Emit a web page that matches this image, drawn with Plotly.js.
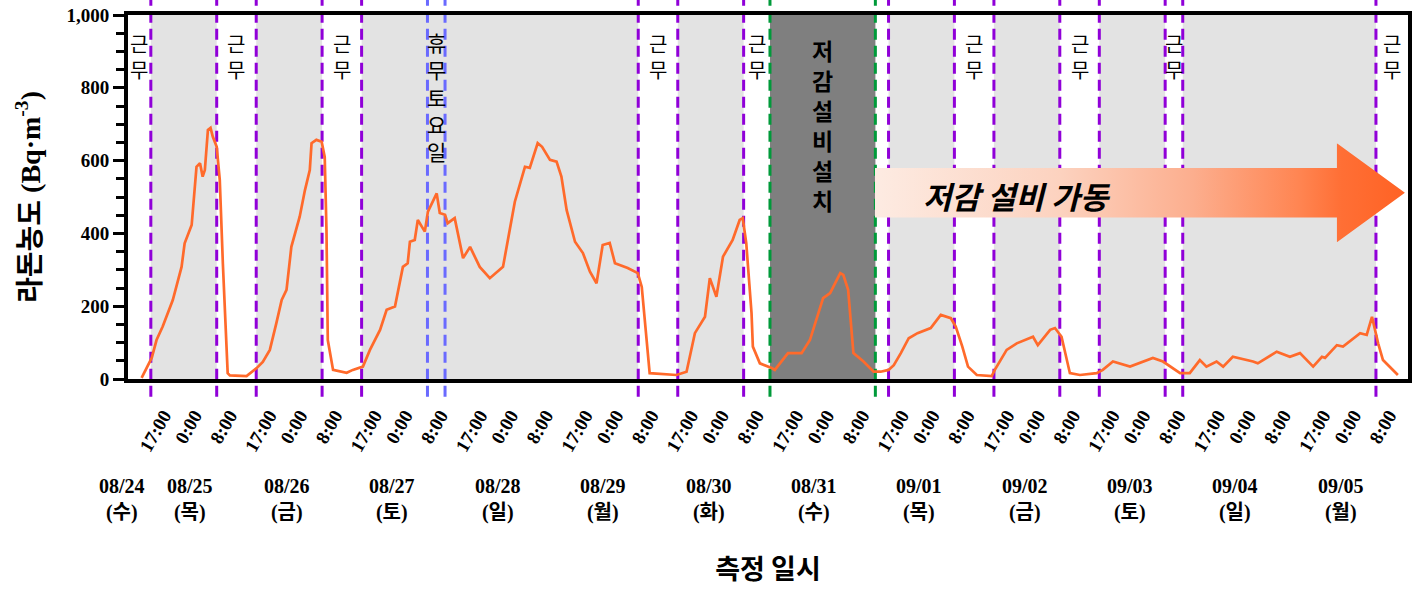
<!DOCTYPE html>
<html>
<head>
<meta charset="utf-8">
<script src="https://cdn.plot.ly/plotly-3.0.1.min.js"></script>
<style>html,body{margin:0;padding:0;background:#fff;}#chart{width:1418px;height:597px;}</style>
</head>
<body>
<div id="chart"></div>
<script>
// ---- data: elapsed hours since 2022-08-24 00:00 and radon concentration (Bq/m3) ----
const hours = [14.9,17.2,18.3,19.7,22.0,24.0,24.7,26.3,27.4,28.2,
  28.8,29.3,30.0,30.6,31.1,32.0,32.7,33.4,34.5,35.0,
  38.8,41.1,42.5,44.1,45.6,46.8,47.9,49.0,50.9,52.1,
  53.2,53.6,54.7,55.9,56.6,57.0,57.3,58.5,61.6,63.0,
  65.3,66.9,69.2,70.7,72.6,73.7,74.4,75.5,76.0,77.1,
  77.8,79.4,80.1,82.1,82.8,84.0,84.6,86.2,88.1,89.7,
  91.9,94.2,97.2,99.9,102.2,103.3,105.1,106.1,107.9,109.4,
  110.5,111.7,113.6,115.4,117.0,118.5,119.9,121.5,122.7,125.6,
  127.9,128.8,129.5,130.6,136.7,139.0,140.9,143.2,144.3,145.8,
  147.3,149.5,151.1,151.8,152.6,153.8,154.1,155.7,158.4,159.1,
  162.1,165.2,167.1,170.1,171.7,174.0,174.7,175.8,177.0,179.3,
  181.6,183.2,185.0,186.2,187.8,189.6,191.6,194.6,196.9,199.2,
  200.3,201.8,203.1,205.1,208.5,209.2,211.9,214.2,217.9,219.0,
  221.8,222.9,224.4,226.3,228.6,232.4,233.8,236.1,240.0,245.2,
  247.5,249.1,251.4,253.6,255.9,257.4,259.7,261.2,263.4,268.0,
  269.1,273.4,276.4,278.7,281.7,283.7,284.4,287.1,288.5,292.4,
  293.9,295.1,295.8,296.5,297.6,299.2,301.0];
const radon = [3,58,107,144,217,308,373,423,583,593,
  556,574,684,690,666,638,547,318,16,10,
  8,30,47,80,154,217,245,363,446,519,
  574,648,657,652,610,409,107,25,17,25,
  34,80,135,190,199,272,308,318,377,382,
  437,405,460,510,456,451,428,442,332,363,
  308,277,308,487,583,580,648,638,602,597,
  556,464,377,346,295,263,368,374,318,305,
  291,253,154,16,11,20,126,171,277,226,
  336,382,437,442,373,181,89,43,30,25,
  71,71,107,222,236,291,286,245,71,48,
  20,20,25,38,71,112,126,140,176,167,
  144,89,34,11,8,25,80,98,116,93,
  135,140,116,16,11,16,25,48,34,58,
  48,34,16,16,52,34,48,34,61,48,
  43,75,61,71,34,61,58,93,89,126,
  121,171,135,98,52,34,11];

// ---- periods (hours since 2022-08-24 00:00) ----
const xStart = 11.8, xEnd = 303.3;
const workStart   = [xStart, 32, 56, 128, 152, 182, 200, 224, 248, 296];
const workEnd     = [17, 41, 65, 137, 158, 185, 209, 233, 252, xEnd];
const workLabeled = [true, true, true, true, true, false, true, true, true, true];
const holidaySat  = [80, 84];
const install     = [158, 182];
const workLines   = [17, 32, 41, 56, 65, 128, 137, 152, 185, 200, 209, 224, 233, 248, 252, 296];

// ---- tick labels ----
const clockLabels = ['17:00', '0:00', '8:00'];
const clockOffsets = [17, 24, 32];
const dayLabels = ['08/24','08/25','08/26','08/27','08/28','08/29','08/30','08/31','09/01','09/02','09/03','09/04','09/05'];
const weekdays  = ['수','목','금','토','일','월','화','수','목','금','토','일','월'];

const tickvals = [], ticktext = [];
for (let d = 0; d < dayLabels.length - 1; d++) {
  clockOffsets.forEach((o, k) => { tickvals.push(24 * d + o); ticktext.push(clockLabels[k]); });
}

const SERIF = 'Liberation Serif, Times New Roman, Noto Sans CJK KR, serif';
const KR = 'Noto Sans CJK KR, Noto Sans, sans-serif';
const PURPLE = '#9000d8', BLUE = '#6a6aff', GREEN = '#009a3a';
const toPaper = h => (h - xStart) / (xEnd - xStart);

const shapes = [];
workStart.forEach((s, i) => shapes.push({type:'rect', xref:'x', yref:'paper', x0:s, x1:workEnd[i], y0:0, y1:1,
  fillcolor:'#ffffff', line:{width:0}, layer:'below'}));
shapes.push({type:'rect', xref:'x', yref:'paper', x0:install[0], x1:install[1], y0:0, y1:1,
  fillcolor:'#7f7f7f', line:{width:0}, layer:'below'});
function vline(x, color) {
  shapes.push({type:'line', xref:'x', yref:'paper', x0:x, x1:x, y0:-0.049, y1:1.045,
    line:{color:color, width:3, dash:'11px,6px'}, layer:'below'});
}
workLines.forEach(x => vline(x, PURPLE));
holidaySat.forEach(x => vline(x, BLUE));
install.forEach(x => vline(x, GREEN));

const annotations = [];
workStart.forEach((s, i) => {
  if (!workLabeled[i]) return;
  annotations.push({xref:'x', yref:'paper', x:(s + workEnd[i]) / 2, y:0.885, text:'근<br>무', showarrow:false,
    font:{family:KR, size:20, color:'#000'}, xanchor:'center', yanchor:'middle'});
});
annotations.push({xref:'x', yref:'paper', x:(holidaySat[0] + holidaySat[1]) / 2, y:0.775,
  text:'휴<br>무<br>토<br>요<br>일', showarrow:false, font:{family:KR, size:21, color:'#000'}, yanchor:'middle'});
annotations.push({xref:'x', yref:'paper', x:(install[0] + install[1]) / 2, y:0.698,
  text:'저<br>감<br>설<br>비<br>설<br>치', showarrow:false, font:{family:KR, size:23, color:'#000', weight:'bold'}, yanchor:'middle'});
annotations.push({xref:'x', yref:'y', x:214.2, y:503, text:'저감 설비 가동', showarrow:false,
  font:{family:KR, size:31, color:'#000', weight:'bold', style:'italic'}, xanchor:'center', yanchor:'middle'});
dayLabels.forEach((d, i) => {
  let h = 24 * i;
  if (i === 0) h = 10.4;
  if (i === 1) h = 26;
  annotations.push({xref:'paper', yref:'paper', x:toPaper(h), y:-0.332, text:d + '<br>(' + weekdays[i] + ')', showarrow:false,
    font:{family:SERIF, size:20, color:'#000', weight:'bold'}, xanchor:'center', yanchor:'middle'});
});

const arrowSvg = "<svg xmlns='http://www.w3.org/2000/svg' width='530' height='100' viewBox='0 0 530 100' preserveAspectRatio='none'>" +
  "<defs><linearGradient id='g' x1='0' y1='0' x2='1' y2='0'>" +
  "<stop offset='0' stop-color='#fdebe2'/><stop offset='0.35' stop-color='#fcd2bf'/><stop offset='0.6' stop-color='#fcae8e'/>" +
  "<stop offset='0.8' stop-color='#ff8552'/><stop offset='0.88' stop-color='#ff6f35'/><stop offset='1' stop-color='#ff6224'/>" +
  "</linearGradient></defs><path d='M0,25 L462,25 L462,0 L530,50 L462,100 L462,75 L0,75 Z' fill='url(#g)'/></svg>";

const layout = {
  width:1418, height:597,
  margin:{l:128, r:10, t:15, b:218},
  paper_bgcolor:'#ffffff', plot_bgcolor:'#e3e3e3',
  showlegend:false,
  xaxis:{
    type:'linear', range:[xStart, xEnd], tickvals:tickvals, ticktext:ticktext, tickangle:-60,
    tickfont:{family:SERIF, size:19, color:'#000', weight:'bold'},
    ticks:'', ticklabelstandoff:14, ticklabelshift:13,
    showgrid:false, zeroline:false, showline:true, mirror:true, linecolor:'#000', linewidth:4,
    title:{text:'측정 일시', font:{family:KR, size:27, color:'#000', weight:'bold'}, standoff:107}
  },
  yaxis:{
    range:[0, 1000], tickvals:[0,200,400,600,800,1000], tickformat:',d',
    tickfont:{family:SERIF, size:19, color:'#000', weight:'bold'},
    ticks:'outside', ticklen:11, tickwidth:3, tickcolor:'#000',
    minor:{dtick:50, ticks:'outside', ticklen:8, tickwidth:3, tickcolor:'#000'},
    showgrid:false, zeroline:false, showline:true, mirror:true, linecolor:'#000', linewidth:4,
    title:{text:'라돈농도 (Bq·m<sup>-3</sup>)', font:{family:SERIF, size:28, color:'#000', weight:'bold'}, standoff:19}
  },
  shapes:shapes,
  annotations:annotations,
  images:[{source:'data:image/svg+xml;charset=utf-8,' + encodeURIComponent(arrowSvg),
    xref:'x', yref:'y', x:181.9, y:648, sizex:120.7, sizey:272, xanchor:'left', yanchor:'top',
    sizing:'stretch', layer:'above'}]
};

const trace = {type:'scatter', mode:'lines', x:hours, y:radon,
  line:{color:'#ff6a2b', width:2.7}, hoverinfo:'x+y'};

Plotly.newPlot('chart', [trace], layout, {staticPlot:true});
</script>
</body>
</html>
